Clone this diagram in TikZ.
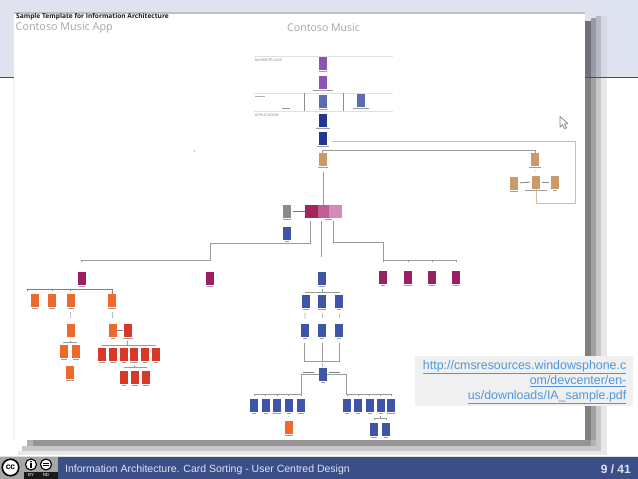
\documentclass[tikz,border=0pt]{standalone}
\usepackage{fontspec}
\setmainfont{Liberation Sans}
\newfontfamily\segoe{Open Sans}
\definecolor{bandc}{HTML}{DFE3F0}
\definecolor{footc}{HTML}{3C4E87}
\definecolor{purp}{HTML}{8A55AE}
\definecolor{slate}{HTML}{5B6CB0}
\definecolor{navy}{HTML}{24368F}
\definecolor{tan}{HTML}{C89B68}
\definecolor{grayc}{HTML}{8A8A8A}
\definecolor{blu}{HTML}{3F55A8}
\definecolor{crim}{HTML}{9C1F63}
\definecolor{magd}{HTML}{A3235F}
\definecolor{magm}{HTML}{C45C92}
\definecolor{magl}{HTML}{D28CB6}
\definecolor{orng}{HTML}{EE6A2C}
\definecolor{redc}{HTML}{D63A26}
\definecolor{linkc}{HTML}{4F96DC}
\definecolor{linec}{HTML}{9A9A9A}
\definecolor{tanl}{HTML}{D6BC9E}
\definecolor{shA}{HTML}{70707A}
\definecolor{shB}{HTML}{9A9AA2}
\definecolor{shC}{HTML}{B5B7C5}
\definecolor{shD}{HTML}{D5D8E5}
\definecolor{slA}{HTML}{808080}
\definecolor{slB}{HTML}{A0A0A0}
\definecolor{slC}{HTML}{C8C8C8}
\definecolor{slD}{HTML}{E8E8E8}
\tikzset{
  cardbox/.style={draw=none,inner sep=0pt,minimum width=8pt,minimum height=13pt},
  capbar/.style={fill=black!38,draw=none},
  conn/.style={draw=linec,line width=0.9pt},
  tanconn/.style={draw=tanl,line width=0.9pt},
  rulel/.style={draw=black!12,line width=0.7pt},
  tier/.style={font=\fontsize{3.6}{4}\selectfont,text=black!50,inner sep=0pt,anchor=west},
}
% name, centre x, centre y, colour, caption half width
\newcommand{\card}[5]{%
  \node[cardbox,fill=#4] (#1) at (#2,#3) {};
  \fill[capbar] (#2-#5,#3+7.8) rectangle (#2+#5,#3+8.7);
}
% parent, bus y, child
\newcommand{\treeline}[3]{%
  \draw[conn,shorten <=4pt,shorten >=2.5pt] (#1.south) -- (#1.south |- 0,#2) -| (#3.north);
}
\newcommand{\stub}[2]{%
  \draw[conn,draw=black!25,shorten <=5pt,shorten >=5pt] (#1.south) -- (#2.north);
}
\begin{document}
\begin{tikzpicture}[x=1pt,y=-1pt]
\useasboundingbox (0,0) rectangle (638,479);
% page background
\fill[white] (0,0) rectangle (638,479);
\fill[bandc] (0,0) rectangle (638,77);
\fill[footc] (0,76.5) rectangle (14,77.6);
% drop shadow
\fill[slD] (601,77) rectangle (607,455);
\fill[slC] (596,77) rectangle (601,452);
\fill[slB] (591,77) rectangle (596,447);
\fill[slA] (585,77) rectangle (591,441);
\fill[shD] (601,16) rectangle (607,77);
\fill[shC] (596,16) rectangle (601,77);
\fill[shB] (591,18) rectangle (596,77);
\fill[shA] (585,21) rectangle (591,77);
\fill[footc] (585,76.5) rectangle (638,77.6);
\fill[slD] (18,451) rectangle (607,455);
\fill[slC] (22,446) rectangle (601,451);
\fill[black!30] (27,440) rectangle (596,446);
\fill[black!42] (33,440) rectangle (591,446);
% screenshot sheet
\fill[bandc!85!black] (14,12) rectangle (585,14);
\fill[white] (14,13.5) rectangle (585,440);
\fill[black!4] (13,77.6) rectangle (14.5,440);
% titles
\node[font=\segoe\bfseries\fontsize{6.6}{8}\selectfont,text=black!90,anchor=west,inner sep=0pt] (ttl) at (16,17) {Sample Template for Information Architecture};
\node[font=\segoe\fontsize{10.8}{13}\selectfont,text=black!35,anchor=west,inner sep=0pt] (app) at (15.5,28) {Contoso Music App};
\node[font=\segoe\fontsize{10.6}{13}\selectfont,text=black!35,anchor=west,inner sep=0pt] (mus) at (287,28) {Contoso Music};
% tier rules
\coordinate (ra1) at (254,56); \coordinate (rb1) at (393,56);
\coordinate (ra2) at (254,93); \coordinate (rb2) at (393,93);
\coordinate (ra3) at (254,111); \coordinate (rb3) at (393,111);
\draw[rulel] (ra1) -- (rb1);
\draw[rulel] (ra2) -- (rb2);
\draw[rulel] (ra3) -- (rb3);
\node[tier] (t1) at (255,60) {MARKETPLACE};
\fill[black!30] (255,96) rectangle (265,97);
\node[tier] (t3) at (255,115.5) {APPLICATION};
\fill[black!40] (282,108.3) rectangle (290,109.3);
\coordinate (va) at (304.5,93); \coordinate (vb) at (304.5,111);
\coordinate (vc) at (343.5,93); \coordinate (vd) at (343.5,111);
\draw[conn,draw=black!45] (va) -- (vb);
\draw[conn,draw=black!45] (vc) -- (vd);
% top stack
\card{m1}{323}{63.5}{purp}{4}
\card{m2}{323}{82.5}{purp}{10}
\card{e1}{322.5}{101}{slate}{4}
\card{e2}{361}{100}{slate}{8}
\card{a1}{323}{120.5}{navy}{7}
\card{a2}{323}{138.5}{navy}{6}
\card{tan1}{322.5}{159.5}{tan}{5}
% tan group
\card{tan2}{535}{159.5}{tan}{6}
\card{tan3}{514}{183}{tan}{4}
\card{tan4}{536}{182}{tan}{11}
\card{tan5}{555}{182}{tan}{2}
\coordinate (gl) at (322.5,150); \coordinate (gr) at (535,150);
\draw[conn] (tan1.north) -- (gl) -- (gr) -- (tan2.north);
\coordinate (tc1) at (332,141);
\coordinate (tc2) at (575.5,141);
\coordinate (tc3) at (575.5,203);
\draw[tanconn] (tc1) -- (tc2) -- (tc3) -| (tan4.south);
\draw[conn,draw=black!45,shorten <=2pt,shorten >=2pt] (tan3.east) -- (tan4.west);
\draw[conn,draw=black!45,shorten <=2pt,shorten >=2pt] (tan4.east) -- (tan5.west);
\stub{tan2}{tan4}
% cursor
\coordinate (cur) at (560,116.5);
\draw[draw=black!50,fill=white,line width=0.7pt,line join=round] (cur) -- ++(0,10.5) -- ++(2.5,-2.3) -- ++(2,4) -- ++(2,-1) -- ++(-2,-3.7) -- ++(3.3,-0.3) -- cycle;
% small mark
\fill[black!25] (193.5,150.3) rectangle (195,151.5);
% magenta band
\node[cardbox,minimum width=13pt,fill=magd] (mg1) at (311.5,211.5) {};
\node[cardbox,minimum width=11pt,fill=magm] (mg2) at (323.5,211.5) {};
\node[cardbox,minimum width=13pt,fill=magl] (mg3) at (335.5,211.5) {};
\fill[capbar] (325,219.3) rectangle (332,220.2);
\card{gr1}{286.5}{211.5}{grayc}{4}
\card{bl0}{286.5}{233}{blu}{2}
\draw[conn,draw=black!55] (gr1.east) ++(2,0) -- (mg1.west);
\coordinate (tanlow) at (323,172);
\draw[conn] (tanlow) -- (tanlow |- mg2.north);
% second level
\card{cr1}{82}{278.5}{crim}{3}
\card{cr2}{210}{278.5}{crim}{3}
\card{bl1}{322}{278}{blu}{3}
\card{cr3}{383}{277}{crim}{2}
\card{cr4}{408}{277}{crim}{4}
\card{cr5}{432}{277}{crim}{3}
\card{cr6}{456}{277}{crim}{3}
\coordinate (hl) at (81,260); \coordinate (hm) at (210,260); \coordinate (hr) at (456,260);
\coordinate (j1) at (310,243); \coordinate (j2) at (210,243);
\coordinate (j3) at (333,242); \coordinate (j4) at (383,242);
\coordinate (j5) at (321.7,257);
\coordinate (hn) at (383,260);
\draw[conn,shorten <=3pt] (mg1.south -| j1) -- (j1) -- (j2) -- (hm) -- (hl) -- ++(0,2);
\draw[conn,shorten <=3pt] (mg2.south -| j5) -- (j5);
\draw[conn,shorten <=3pt] (mg3.south -| j3) -- (j3) -- (j4) -- (hn) -- (hr) -- ++(0,2);
\draw[conn] (hn) -- ++(0,2);
\draw[conn] (cr4.north) ++(0,-10) -- ++(0,1.5);
\draw[conn] (cr5.north) ++(0,-10) -- ++(0,1.5);
% left orange tree
\card{o1}{34.5}{300.5}{orng}{3}
\card{o2}{52}{300.5}{orng}{3}
\card{o3}{70.5}{300.5}{orng}{3}
\card{o4}{112}{300.5}{orng}{4}
\coordinate (ob) at (27,289);
\draw[conn,draw=black!50,shorten <=4pt] (cr1.south) -- (cr1.south |- ob);
\draw[conn,draw=black!50] (ob) ++(0,2) -- (ob) -| (o4.north);
\draw[conn,draw=black!50,shorten >=2.5pt] (o2.north |- ob) -- (o2.north);
\draw[conn,draw=black!50,shorten >=2.5pt] (o3.north |- ob) -- (o3.north);
\card{o5}{70.5}{330}{orng}{0.01}
\card{o6}{63.5}{351}{orng}{3}
\card{o7}{76}{351}{orng}{3}
\card{o8}{69.5}{372.5}{orng}{4}
\stub{o3}{o5}
\treeline{o5}{342}{o6}
\treeline{o5}{342}{o7}
\stub{o6}{o8}
\card{o9}{113}{330}{orng}{2}
\card{r0}{127.5}{330}{redc}{5}
\stub{o4}{o9}
\draw[conn,draw=black!50] (o9.east) -- (r0.west);
\card{r1}{102}{354.5}{redc}{3}
\card{r2}{113}{354.5}{redc}{3}
\card{r3}{124}{354.5}{redc}{2}
\card{r4}{134}{354.5}{redc}{4}
\card{r5}{144.5}{354.5}{redc}{2}
\card{r6}{155.5}{354.5}{redc}{2}
\treeline{r0}{345}{r1}
\treeline{r0}{345}{r2}
\treeline{r0}{345}{r3}
\treeline{r0}{345}{r4}
\treeline{r0}{345}{r5}
\treeline{r0}{345}{r6}
\card{r7}{124}{377}{redc}{2}
\card{r8}{135}{377}{redc}{3}
\card{r9}{146}{377}{redc}{3}
\treeline{r4}{367}{r7}
\treeline{r4}{367}{r8}
\treeline{r4}{367}{r9}
% centre blue tree
\card{b1}{305.5}{301}{blu}{3}
\card{b2}{322}{301}{blu}{4}
\card{b3}{339}{301}{blu}{2}
\treeline{bl1}{292}{b1}
\treeline{bl1}{292}{b2}
\treeline{bl1}{292}{b3}
\card{b4}{304.5}{330}{blu}{2}
\card{b5}{322}{330}{blu}{2}
\card{b6}{339}{330}{blu}{2}
\stub{b1}{b4}
\stub{b2}{b5}
\stub{b3}{b6}
\card{hub}{323}{374}{blu}{2}
\coordinate (u) at (322,361);
\draw[conn,shorten <=6pt,shorten >=6pt] (b4.south) -- (b4.south |- u) -- (b6.south |- u) -- (b6.south);
\draw[conn,shorten <=6pt] (b5.south) -- (u);
\draw[conn,draw=black!30] (u) ++(0,1.5) -- (hub.north);
\coordinate (lb) at (301,394);
\coordinate (rbb) at (346,394);
\draw[conn] (hub.west) -| (lb);
\draw[conn] (hub.east) -| (rbb);
\fill[black!50] (303,372) rectangle (314,373);
\fill[black!50] (329,372) rectangle (340,373);
\card{c1}{254}{405.5}{blu}{2}
\card{c2}{265.5}{405.5}{blu}{2}
\card{c3}{277}{405.5}{blu}{4}
\card{c4}{288.5}{405.5}{blu}{2}
\card{c5}{301}{405.5}{blu}{3}
\foreach \n in {c1,c2,c3,c4,c5}{\draw[conn,shorten >=2.5pt] (lb -| \n.north) -- (\n.north);}
\draw[conn] (c1.north |- lb) -- (lb);
\card{c6}{288.5}{427.5}{orng}{4}
\stub{c4}{c6}
\card{d1}{347}{405.5}{blu}{2}
\card{d2}{358}{405.5}{blu}{2}
\card{d3}{369.5}{405.5}{blu}{2}
\card{d4}{380.5}{405.5}{blu}{2}
\card{d5}{391}{405.5}{blu}{4}
\foreach \n in {d1,d2,d3,d4,d5}{\draw[conn,shorten >=2.5pt] (rbb -| \n.north) -- (\n.north);}
\draw[conn] (rbb) -- (rbb -| d5.north);
\card{d6}{374}{429}{blu}{3}
\card{d7}{386}{429}{blu}{2}
\treeline{d4}{418.5}{d6}
\treeline{d4}{418.5}{d7}
% link box
\fill[black!6] (415,355.7) rectangle (633,406);
\node[font=\fontsize{12.4}{15}\selectfont,text=linkc,align=right,anchor=north east,inner sep=0pt] (lnk) at (626.5,360.5)
 {\underline{http://cmsresources.windowsphone.c}\\\underline{om/devcenter/en-}\\\underline{us/downloads/IA\_sample.pdf}};
% footer
\fill[footc] (0,456.5) rectangle (638,478.5);
\fill[black!12] (0,455.5) rectangle (638,456.5);
\node[font=\fontsize{10.5}{12}\selectfont,text=bandc,anchor=west,inner sep=0pt] (ft) at (65,469.5) {Information Architecture. Card Sorting - User Centred Design};
\node[font=\bfseries\fontsize{12}{14}\selectfont,text=bandc,anchor=east,inner sep=0pt] (pg) at (631,469.5) {9 / 41};
% licence badge
\fill[black!35] (0,456.5) rectangle (58,478.5);
\fill[black!90] (24,472) rectangle (58,478.5);
\node[circle,draw=black,line width=1.6pt,fill=white,minimum size=16.5pt,inner sep=0pt,font=\bfseries\fontsize{8.5}{9}\selectfont] (cc) at (10.5,467.5) {cc};
\node[circle,draw=black,line width=1.1pt,fill=white,minimum size=11pt,inner sep=0pt] (by) at (31,464.5) {};
\fill[black] (31,461.5) circle (1);
\fill[black] (29.9,463) rectangle (32.1,468);
\node[circle,draw=black,line width=1.1pt,fill=white,minimum size=11pt,inner sep=0pt] (nd) at (46,464.5) {};
\fill[black] (43,462.7) rectangle (49,463.9);
\fill[black] (43,465.1) rectangle (49,466.3);
\node[font=\fontsize{4.4}{5}\selectfont,text=white,inner sep=0pt] (byt) at (31,475.3) {BY};
\node[font=\fontsize{4.4}{5}\selectfont,text=white,inner sep=0pt] (ndt) at (46,475.3) {ND};
\end{tikzpicture}
\end{document}
